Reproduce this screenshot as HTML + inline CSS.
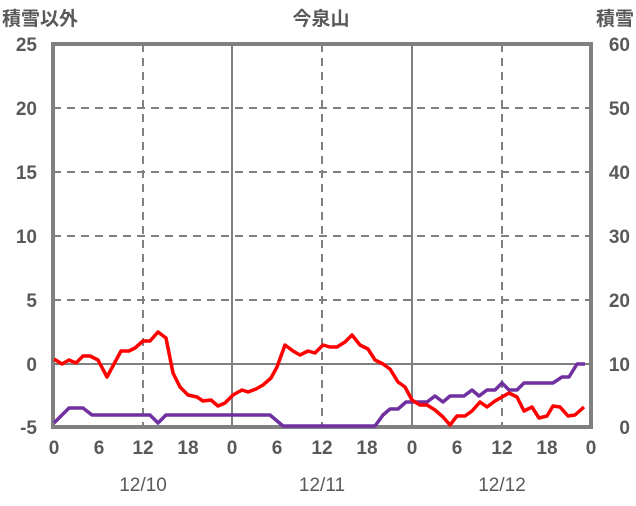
<!DOCTYPE html>
<html><head><meta charset="utf-8"><style>body{margin:0;background:#fff}</style></head><body>
<svg width="636" height="501" xmlns="http://www.w3.org/2000/svg" font-family="Liberation Sans, Noto Sans CJK JP, sans-serif" fill="#595959">
<g stroke="#808080" stroke-width="2" stroke-dasharray="8,6">
<line x1="53" y1="108" x2="591" y2="108"/><line x1="53" y1="172" x2="591" y2="172"/><line x1="53" y1="236" x2="591" y2="236"/><line x1="53" y1="300" x2="591" y2="300"/>
<line x1="143" y1="44" x2="143" y2="427"/><line x1="322" y1="44" x2="322" y2="427"/><line x1="502" y1="44" x2="502" y2="427"/>
</g>
<g stroke="#808080" stroke-width="2"><line x1="53" y1="364" x2="591" y2="364"/><line x1="232" y1="44" x2="232" y2="427"/><line x1="412" y1="44" x2="412" y2="427"/></g>
<rect x="53" y="44" width="538" height="383" fill="none" stroke="#808080" stroke-width="4"/>
<polyline fill="none" stroke="#7030a0" stroke-width="3.5" stroke-linejoin="round" points="54,423 62,415 69,408 83,408 92,415 150,415 158,423 166,415 270,415 283,426 375,426 383,415 390,409 398,409 406,402 427,402 435,396 443,402 450,396 464,396 472,390 479,396 487,390 495,390 502,383 509,390 517,390 524,383 553,383 562,377 569,377 577,364 585,364"/>
<polyline fill="none" stroke="#ff0000" stroke-width="3.5" stroke-linejoin="round" points="54,359 62,364 69,360 76,363 83,356 90,356 98,360 107,377 114,364 121,351 129,351 135,348 143,341 150,341 158,332 166,338 173,373 180,387 188,395 197,397 203,401 211,400 218,406 225,403 233,395 242,390 248,392 256,389 263,385 271,378 277,367 285,345 293,351 300,355 308,351 315,353 323,345 330,347 337,347 345,342 352,335 360,345 368,349 375,360 383,364 390,369 398,382 405,387 412,400 420,405 427,405 435,410 443,417 450,425 457,416 465,416 472,411 480,402 487,407 495,401 502,397 509,393 517,397 524,411 532,407 539,418 547,416 553,406 560,407 568,416 575,415 584,407"/>
<g font-size="19" font-weight="bold" text-anchor="end">
<text x="37" y="51">25</text><text x="37" y="115">20</text><text x="37" y="179">15</text><text x="37" y="243">10</text><text x="37" y="307">5</text><text x="37" y="371">0</text><text x="37" y="434">-5</text>
</g>
<g font-size="19" font-weight="bold" text-anchor="end">
<text x="630" y="51">60</text><text x="630" y="115">50</text><text x="630" y="179">40</text><text x="630" y="243">30</text><text x="630" y="307">20</text><text x="630" y="371">10</text><text x="630" y="434">0</text>
</g>
<g font-size="19" font-weight="bold" text-anchor="middle">
<text x="54" y="454">0</text><text x="99" y="454">6</text><text x="143" y="454">12</text><text x="188" y="454">18</text><text x="232" y="454">0</text><text x="277" y="454">6</text><text x="322" y="454">12</text><text x="367" y="454">18</text><text x="412" y="454">0</text><text x="457" y="454">6</text><text x="502" y="454">12</text><text x="547" y="454">18</text><text x="591" y="454">0</text>
<text x="143" y="491" font-weight="normal">12/10</text><text x="322" y="491" font-weight="normal">12/11</text><text x="502" y="491" font-weight="normal">12/12</text>
<text x="321" y="25">今泉山</text>
</g>
<text x="2" y="25" font-size="19" font-weight="bold">積雪以外</text>
<text x="634" y="25" font-size="19" font-weight="bold" text-anchor="end">積雪</text>
</svg>
</body></html>
